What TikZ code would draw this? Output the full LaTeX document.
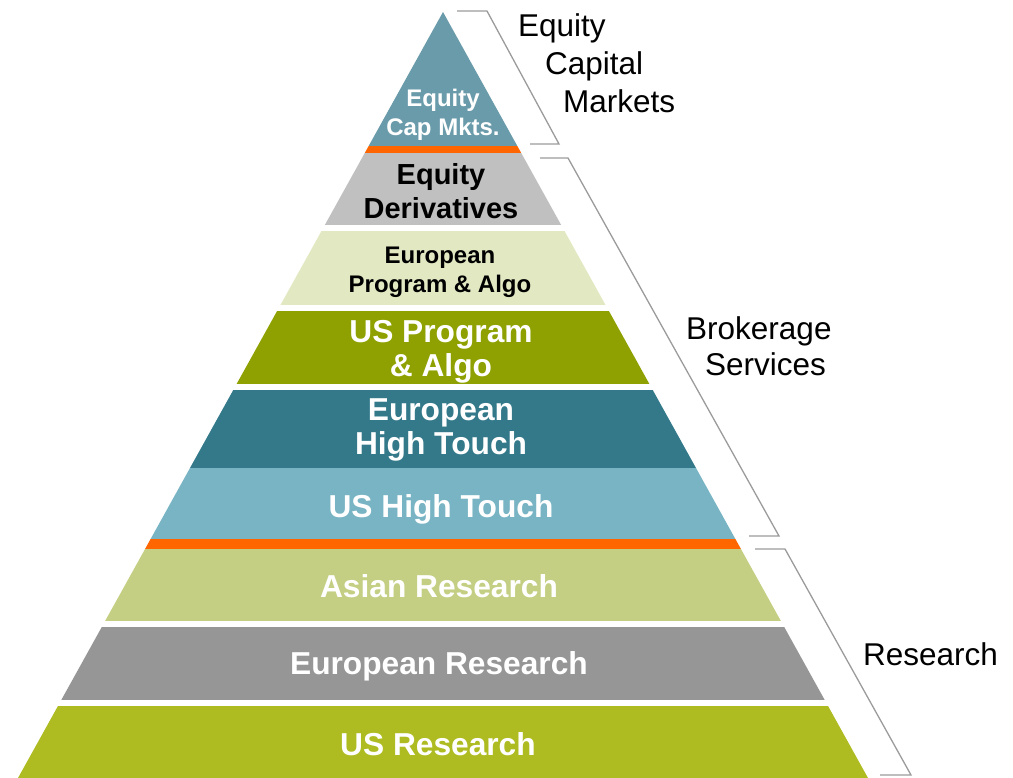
\documentclass[tikz,border=0pt]{standalone}
\usepackage{fontspec}
\setmainfont{Liberation Sans}
\usepackage{tikz}
\usepackage{xcolor}
\usetikzlibrary{positioning,calc}
\definecolor{ecmTeal}{RGB}{106,155,170}
\definecolor{splitOrange}{RGB}{255,102,0}
\definecolor{derivGrey}{RGB}{192,192,192}
\definecolor{euAlgoCream}{RGB}{226,233,194}
\definecolor{usAlgoOlive}{RGB}{143,161,0}
\definecolor{euTouchTeal}{RGB}{51,121,138}
\definecolor{usTouchBlue}{RGB}{120,180,196}
\definecolor{asiaGreen}{RGB}{196,207,131}
\definecolor{euResGrey}{RGB}{150,150,150}
\definecolor{usResGreen}{RGB}{174,188,33}
\definecolor{braceGrey}{RGB}{155,155,155}

\tikzset{
  bigtxt/.style={font=\fontsize{31.7}{34}\selectfont\bfseries, align=center, inner sep=0pt},
  midtxt/.style={font=\fontsize{29}{34}\selectfont\bfseries, align=center, inner sep=0pt},
  smalltxt/.style={font=\fontsize{24}{29}\selectfont\bfseries, align=center, inner sep=0pt},
  sidetxt/.style={font=\fontsize{31.5}{35}\selectfont, inner sep=0pt},
  brace/.style={draw=braceGrey, line width=1.3pt}
}

\begin{document}
\begin{tikzpicture}[x=1pt,y=-1pt]
\useasboundingbox (0,0) rectangle (1013,778);

% pyramid bands, cut by the outline
\begin{scope}
  \clip (443,12) -- (868,778) -- (18,778) -- cycle;
  \fill[ecmTeal] (0,0) rectangle (1013,146);
  \fill[splitOrange] (0,146) rectangle (1013,153);
  \fill[derivGrey] (0,153) rectangle (1013,225);
  \fill[euAlgoCream] (0,231) rectangle (1013,305);
  \fill[usAlgoOlive] (0,311) rectangle (1013,384);
  \fill[euTouchTeal] (0,390) rectangle (1013,467.5);
  \fill[usTouchBlue] (0,467.5) rectangle (1013,539);
  \fill[splitOrange] (0,539) rectangle (1013,549);
  \fill[asiaGreen] (0,549) rectangle (1013,621);
  \fill[euResGrey] (0,627) rectangle (1013,700);
  \fill[usResGreen] (0,706) rectangle (1013,778);
\end{scope}

\node[smalltxt, text=white] (ecm) at (443,115) {Equity\\Cap Mkts.};
\node[midtxt] (deriv) at (441,191) {Equity\\Derivatives};
\node[smalltxt] (euAlgo) at (440,272) {European\\Program \& Algo};
\node[bigtxt, text=white] (usAlgo) at (441,352) {US Program\\\& Algo};
\node[bigtxt, text=white] (euTouch) at (441,430) {European\\High Touch};
\node[bigtxt, text=white] (usTouch) at (441,509) {US High Touch};
\node[bigtxt, text=white] (asiaRes) at (439,586) {Asian Research};
\node[bigtxt, text=white] (euRes) at (439,666) {European Research};
\node[bigtxt, text=white] (usRes) at (438,744) {US Research};

% brackets on the right
\draw[brace] (457,11) -- (487,11) -- (559,144) -- (530,144);
\draw[brace] (540,158) -- (568,158) -- (779,536) -- (749,536);
\draw[brace] (755,549) -- (785,549) -- (911,775) -- (880,775);

\node[sidetxt, anchor=base west] (ecmLbl) at (518,37) {Equity};
\node[sidetxt, anchor=base west] (capLbl) at (545,75) {Capital};
\node[sidetxt, anchor=base west] (mktLbl) at (563,113) {Markets};
\node[sidetxt, anchor=base west] (brokLbl) at (686,340) {Brokerage};
\node[sidetxt, anchor=base west] (servLbl) at (705,375) {Services};
\node[sidetxt, anchor=base west] (resLbl) at (863,665) {Research};
\end{tikzpicture}
\end{document}
